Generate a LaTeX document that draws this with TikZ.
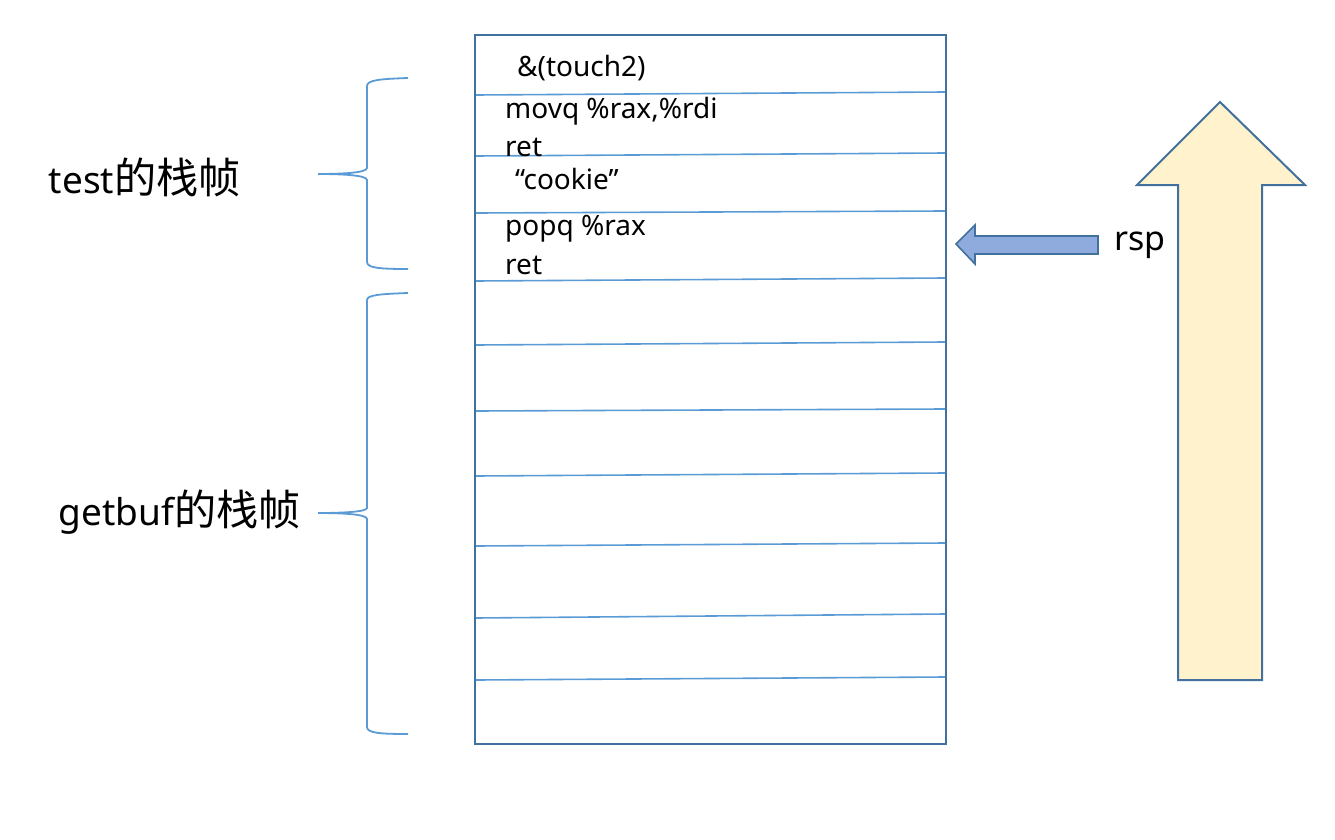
\documentclass[tikz,border=0pt]{standalone}
\usepackage{fontspec}
\setmainfont{Noto Sans}
\newfontfamily\cjk{Noto Sans CJK SC}[Scale=1.14]
\definecolor{boxblue}{HTML}{41719C}
\definecolor{lineblue}{HTML}{5B9BD5}
\definecolor{rspfill}{HTML}{8FAADC}
\definecolor{upfill}{HTML}{FFF2CC}
\tikzset{
	cell/.style={anchor=base west, inner sep=0pt, font=\fontsize{28}{31}\selectfont},
	frame/.style={anchor=east, inner sep=0pt, font=\fontsize{37}{41}\selectfont},
	brace/.style={draw=lineblue, line width=1.8pt},
}

\begin{document}
\begin{tikzpicture}[x=1pt, y=-1pt]
				\useasboundingbox (0,0) rectangle (1335,840);
				
				\draw[boxblue, line width=2pt] (475,35) rectangle (946,744);
				\foreach \l/\r in {95/92, 156/153, 213/211, 281/278, 345/342, 411/409, 476/473, 546/543, 618/614, 680/677}
					\draw[lineblue, line width=1.6pt] (476,\l) -- (945,\r);
				
				\node[cell] (touch) at (517,77) {\&(touch2)};
				\node[cell] (movq) at (505,118) {movq \%rax,\%rdi};
				\node[cell] (ret1) at (505,157) {ret};
				\node[cell] (cookie) at (515,189) {“cookie”};
				\node[cell] (popq) at (505,235) {popq \%rax};
				\node[cell] (ret2) at (505,274) {ret};
				
				\node[frame] (test) at (241,177) {test{\cjk 的栈帧}};
				\node[frame] (getbuf) at (301,512) {getbuf{\cjk 的栈帧}};
				
				\draw[brace] (408,78) .. controls (380,79) and (367,80) .. (367,86) -- (367,168)
					.. controls (367,173) and (340,174) .. (318,174)
					.. controls (340,174) and (367,175) .. (367,180) -- (367,262)
					.. controls (367,268) and (380,269) .. (408,269);
				\draw[brace] (408,293) .. controls (380,294) and (367,295) .. (367,300) -- (367,508)
					.. controls (367,512) and (340,513) .. (318,513)
					.. controls (340,513) and (367,514) .. (367,519) -- (367,727)
					.. controls (367,733) and (380,734) .. (408,734);
				
				\draw[boxblue, line width=1.6pt, fill=rspfill] (956,244) -- (975,225) -- (975,236) -- (1098,236)
					-- (1098,254) -- (975,254) -- (975,264) -- cycle;
				\node[anchor=west, inner sep=0pt, font=\fontsize{34}{38}\selectfont] (rsp) at (1114,245) {rsp};
				
				\draw[boxblue, line width=2pt, fill=upfill] (1220,102) -- (1305,185) -- (1262,185) -- (1262,680)
					-- (1178,680) -- (1178,185) -- (1137,185) -- cycle;
\end{tikzpicture}
\end{document}
